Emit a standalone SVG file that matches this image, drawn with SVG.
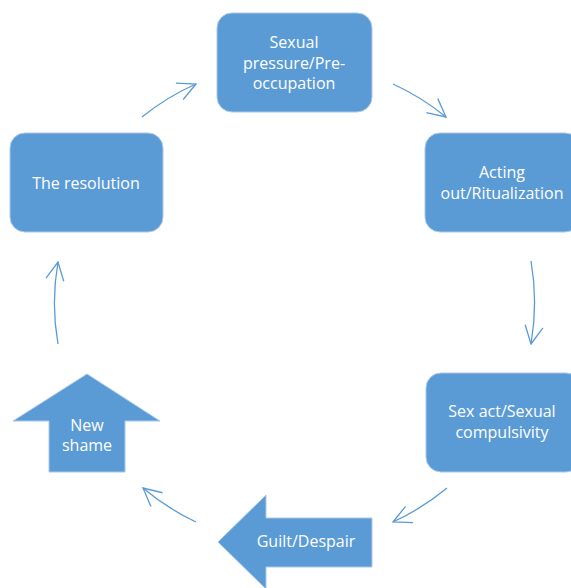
<svg xmlns="http://www.w3.org/2000/svg" width="571" height="588" viewBox="0 0 571 588">
<style>
.box{fill:#5B9BD5;stroke:#A9C8EA;stroke-width:1}
.t{fill:#FFFFFF;font-family:"Open Sans","Noto Sans","Liberation Sans",sans-serif;font-size:16px;text-anchor:middle}
.c{fill:none;stroke:#5B9BD5;stroke-width:1.3;marker-end:url(#ah)}
</style>
<defs>
<marker id="ah" viewBox="0 0 20 20" refX="19" refY="10" markerWidth="20" markerHeight="20" markerUnits="userSpaceOnUse" orient="auto">
<path d="M1,1 L19,10 L1,19" fill="none" stroke="#5B9BD5" stroke-width="1.3"/>
</marker>
</defs>
<rect width="571" height="588" fill="#FFFFFF"/>
<g id="connectors">
<path class="c" d="M142,117 A238,238 0 0 1 196,84"/>
<path class="c" d="M393,84 A240,240 0 0 1 446,117"/>
<path class="c" d="M531,261 A244,244 0 0 1 531,344"/>
<path class="c" d="M447,488 A245,245 0 0 1 393,522"/>
<path class="c" d="M196,522 A240,240 0 0 1 143,488"/>
<path class="c" d="M58,344 A236,236 0 0 1 58,262"/>
</g>
<g id="node-pressure">
<rect class="box" x="217" y="13" width="155" height="99" rx="15"/>
<text class="t" x="294" y="48">Sexual</text>
<text class="t" x="294" y="69">pressure/Pre-</text>
<text class="t" x="294" y="89">occupation</text>
</g>
<g id="node-acting">
<rect class="box" x="425" y="133" width="155" height="99" rx="15"/>
<text class="t" x="502" y="178">Acting</text>
<text class="t" x="502" y="199">out/Ritualization</text>
</g>
<g id="node-sexact">
<rect class="box" x="426" y="373" width="155" height="99" rx="15"/>
<text class="t" x="502" y="417">Sex act/Sexual</text>
<text class="t" x="502" y="438">compulsivity</text>
</g>
<g id="node-guilt">
<polygon class="box" points="218,542 266,495 266,518 372,518 372,567 266,567 266,589"/>
<text class="t" x="306" y="547">Guilt/Despair</text>
</g>
<g id="node-newshame">
<polygon class="box" points="87,374 160,421 125,421 125,472 49,472 49,421 13,421"/>
<text class="t" x="87" y="431">New</text>
<text class="t" x="87" y="451">shame</text>
</g>
<g id="node-resolution">
<rect class="box" x="10" y="133" width="153" height="99" rx="15"/>
<text class="t" x="86" y="189">The resolution</text>
</g>
</svg>
